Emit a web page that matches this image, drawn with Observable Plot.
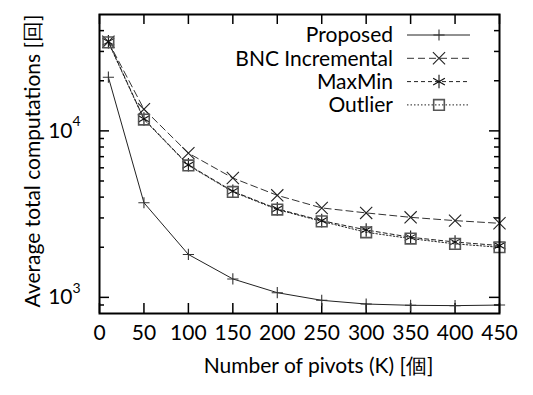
<!DOCTYPE html>
<html><head><meta charset="utf-8">
<script src="https://cdn.jsdelivr.net/npm/d3@7"></script>
<script src="https://cdn.jsdelivr.net/npm/@observablehq/plot@0.6"></script>
<style>
html,body{margin:0;padding:0;background:#fff;}
#chart{position:relative;width:533px;height:395px;}
</style></head>
<body><div id="chart"></div>
<script>
const ks = [10, 50, 100, 150, 200, 250, 300, 350, 400, 450];
const seriesNames = ["Proposed", "BNC Incremental", "MaxMin", "Outlier"];
const proposed = [21000, 3700, 1810, 1290, 1067, 960, 912, 896, 892, 899];
const bnc = [34300, 13500, 7350, 5210, 4100, 3445, 3215, 3025, 2890, 2785];
const maxmin = [34300, 11800, 6250, 4340, 3400, 2890, 2540, 2296, 2150, 2047];
const outlier = [34000, 11700, 6200, 4300, 3370, 2860, 2460, 2255, 2095, 2000];
const xTicks = [0, 50, 100, 150, 200, 250, 300, 350, 400, 450];
const yMajor = [1000, 10000];
const yMinor = [900, 2000, 3000, 4000, 5000, 6000, 7000, 8000, 9000, 20000, 30000, 40000];
const xTitle = "Number of pivots (K) [個]";
const yTitle = "Average total computations [回]";

const FONT = "Lato, sans-serif";
const styles = {
  "Proposed": {symbol: "plus", r: 3.7, dash: null, stroke: "#222", mstroke: "#333"},
  "BNC Incremental": {symbol: "times", r: 5.6, dash: "7,4", stroke: "#333", mstroke: "#222"},
  "MaxMin": {symbol: "asterisk", r: 6.4, dash: "4,3", stroke: "#222", mstroke: "#111"},
  "Outlier": {symbol: "square", r: 6.0, dash: "1.5,2", stroke: "#222", mstroke: "#555"}
};
const vals = [proposed, bnc, maxmin, outlier];
const rows = [];
seriesNames.forEach((s, i) => ks.forEach((k, j) => rows.push({series: s, k, v: vals[i][j]})));

const W = 533, H = 395, ML = 99, MR = 34, MT = 14, MB = 82;
const PW = W - ML - MR, PH = H - MT - MB;

const marks = [];
// ticks (mirrored, inward)
marks.push(Plot.tickX(xTicks, {x: d => d, insetTop: PH - 10, stroke: "#000", strokeWidth: 1.5}));
marks.push(Plot.tickX(xTicks, {x: d => d, insetBottom: PH - 10, stroke: "#000", strokeWidth: 1.5}));
marks.push(Plot.tickY(yMajor, {y: d => d, insetRight: PW - 10, stroke: "#000", strokeWidth: 1.5}));
marks.push(Plot.tickY(yMajor, {y: d => d, insetLeft: PW - 10, stroke: "#000", strokeWidth: 1.5}));
marks.push(Plot.tickY(yMinor, {y: d => d, insetRight: PW - 5, stroke: "#000", strokeWidth: 1.5}));
marks.push(Plot.tickY(yMinor, {y: d => d, insetLeft: PW - 5, stroke: "#000", strokeWidth: 1.5}));
// series
seriesNames.forEach(s => {
  const st = styles[s];
  const d = rows.filter(r => r.series === s);
  marks.push(Plot.line(d, {x: "k", y: "v", stroke: st.stroke, strokeWidth: 1, strokeDasharray: st.dash}));
});
seriesNames.forEach(s => {
  const st = styles[s];
  const d = rows.filter(r => r.series === s);
  marks.push(Plot.dot(d, {x: "k", y: "v", symbol: st.symbol, r: st.r, stroke: st.mstroke, fill: "none", strokeWidth: s === "Outlier" ? 1.6 : 1.1}));
});
marks.push(Plot.frame({stroke: "#000", strokeWidth: 2}));
// tick labels
marks.push(Plot.text(xTicks, {x: d => d, frameAnchor: "bottom", dy: 26, text: d => String(d), fontSize: 21, fill: "#000"}));
marks.push(Plot.text(yMajor, {y: d => d, frameAnchor: "left", dx: -27, textAnchor: "end", text: d => "10", fontSize: 21, fill: "#000"}));
marks.push(Plot.text(yMajor, {y: d => d, frameAnchor: "left", dx: -27, dy: -9, textAnchor: "start", text: d => String(Math.round(Math.log10(d))), fontSize: 14, fill: "#000"}));
// titles
marks.push(Plot.text([xTitle], {frameAnchor: "bottom", dx: 19, dy: 59, text: d => d, fontSize: 21, fill: "#000"}));
marks.push(Plot.text([yTitle], {frameAnchor: "left", textAnchor: "middle", dx: -66, dy: -3, rotate: -90, text: d => d, fontSize: 21, fill: "#000"}));

const plot = Plot.plot({
  width: W, height: H, marginLeft: ML, marginRight: MR, marginTop: MT, marginBottom: MB,
  style: {fontFamily: FONT, background: "#fff"},
  x: {domain: [0, 450], axis: null},
  y: {type: "log", domain: [800, 50000], axis: null},
  marks
});
document.getElementById("chart").appendChild(plot);

// legend
const svg = d3.select(plot);
const lg = svg.append("g").attr("font-family", FONT).attr("font-size", 21);
const symMap = {plus: d3.symbolPlus, times: d3.symbolTimes, asterisk: d3.symbolAsterisk, square: d3.symbolSquare};
seriesNames.forEach((s, i) => {
  const st = styles[s];
  const y = 35 + i * 23.3;
  lg.append("text").attr("x", 393).attr("y", y).attr("dy", "0.35em").attr("text-anchor", "end").attr("fill", "#000").text(s);
  lg.append("line").attr("x1", 407).attr("x2", 470).attr("y1", y).attr("y2", y)
    .attr("stroke", st.stroke).attr("stroke-width", 1).attr("stroke-dasharray", st.dash);
  lg.append("path").attr("transform", `translate(439,${y})`)
    .attr("d", d3.symbol(symMap[st.symbol], Math.PI * st.r * st.r)())
    .attr("fill", "none").attr("stroke", st.mstroke).attr("stroke-width", s === "Outlier" ? 1.6 : 1.1);
});
</script></body></html>
